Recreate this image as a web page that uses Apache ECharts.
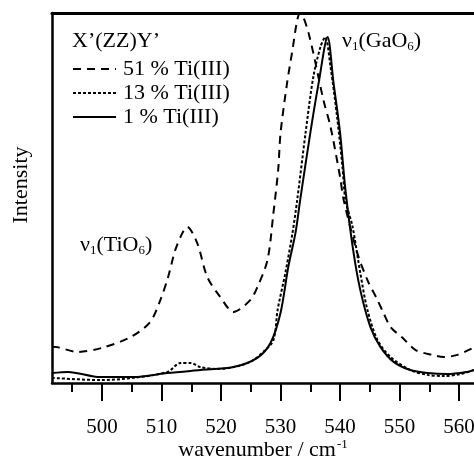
<!DOCTYPE html>
<html>
<head>
<meta charset="utf-8">
<script src="https://cdn.jsdelivr.net/npm/echarts@6/dist/echarts.min.js"></script>
<style>
  html, body { margin: 0; padding: 0; background: #fff; }
  #chart { width: 474px; height: 464px; }
</style>
</head>
<body>
<div id="chart"></div>
<script>
// wavenumber (cm-1) / intensity pairs
const wn51 = [491.6, 492.5, 495.9, 500.0, 504.8, 508.1, 509.8, 511.1, 512.3, 513.5, 514.3, 516.0, 517.7, 519.9, 522.1, 524.9, 526.1, 527.8, 528.8, 529.6, 530.0, 531.1, 532.0, 532.8, 533.3, 534.7, 537.2, 538.4, 540.0, 540.6, 542.9, 544.6, 546.3, 547.3, 548.5, 550.5, 552.7, 555.5, 557.4, 559.7, 562.5]
const int51 = [0.098, 0.097, 0.084, 0.095, 0.124, 0.165, 0.224, 0.286, 0.359, 0.405, 0.422, 0.378, 0.286, 0.232, 0.192, 0.224, 0.259, 0.332, 0.459, 0.576, 0.676, 0.811, 0.9, 0.981, 1.0, 0.946, 0.765, 0.692, 0.557, 0.495, 0.351, 0.278, 0.224, 0.189, 0.151, 0.122, 0.089, 0.076, 0.07, 0.076, 0.096]

const wn13 = [491.6, 499.7, 505.3, 511.0, 513.2, 514.9, 516.5, 519.4, 522.1, 524.9, 527.1, 528.8, 529.5, 530.8, 532.0, 532.8, 534.2, 535.5, 536.7, 537.5, 538.4, 539.5, 540.4, 540.9, 542.1, 543.4, 544.6, 546.3, 548.5, 551.8, 554.7, 557.4, 560.2, 562.5]
const int13 = [0.014, 0.008, 0.014, 0.03, 0.054, 0.054, 0.043, 0.038, 0.043, 0.057, 0.084, 0.116, 0.197, 0.297, 0.405, 0.495, 0.676, 0.827, 0.908, 0.935, 0.854, 0.719, 0.584, 0.495, 0.422, 0.297, 0.197, 0.116, 0.07, 0.035, 0.022, 0.019, 0.024, 0.035]

const wn1 = [491.6, 494.3, 499.7, 505.3, 511.0, 516.5, 522.1, 526.1, 528.3, 530.0, 531.3, 532.5, 533.3, 535.0, 536.4, 537.9, 538.9, 540.0, 540.9, 542.2, 543.4, 545.1, 546.8, 549.0, 551.8, 554.7, 558.0, 561.4, 562.5]
const int1 = [0.027, 0.03, 0.016, 0.016, 0.027, 0.035, 0.043, 0.068, 0.108, 0.19, 0.314, 0.405, 0.495, 0.676, 0.811, 0.935, 0.811, 0.676, 0.522, 0.359, 0.251, 0.151, 0.097, 0.057, 0.035, 0.027, 0.024, 0.03, 0.035]

const majorTicks = [500, 510, 520, 530, 540, 550, 560]
const minorTicks = [495, 505, 515, 525, 535, 545, 555]

const seriesNames = ['51 % Ti(III)', '13 % Ti(III)', '1 % Ti(III)']

const serif = "'Liberation Serif', 'DejaVu Serif', serif"
const xMin = 491.6
const xMax = 562.5

function zip (xs, ys) {
  return xs.map((x, i) => [x, ys[i]])
}

const chart = echarts.init(document.getElementById('chart'))
chart.setOption({
  animation: false,
  grid: {
    left: 52,
    top: 13,
    right: 0,
    bottom: 81,
    containLabel: false,
    outerBoundsMode: 'none'
  },
  legend: {
    orient: 'vertical',
    left: 72,
    top: 58,
    padding: 0,
    itemWidth: 43,
    itemHeight: 14,
    itemGap: 2,
    data: seriesNames,
    itemStyle: { opacity: 0 },
    textStyle: { fontFamily: serif, fontSize: 22, lineHeight: 22, color: '#000', padding: [0, 0, 0, 2] }
  },
  xAxis: [
    {
      // major ticks and labels
      type: 'value',
      min: xMin,
      max: xMax,
      position: 'bottom',
      splitLine: { show: false },
      axisLine: { show: true, lineStyle: { color: '#000', width: 2.5 } },
      axisTick: { show: true, customValues: majorTicks, length: 18, lineStyle: { color: '#000', width: 2 } },
      axisLabel: { customValues: majorTicks, margin: 34, fontFamily: serif, fontSize: 21, color: '#000' }
    },
    {
      // minor ticks
      type: 'value',
      min: xMin,
      max: xMax,
      position: 'bottom',
      splitLine: { show: false },
      axisLine: { show: false },
      axisTick: { show: true, customValues: minorTicks, length: 9, lineStyle: { color: '#000', width: 2 } },
      axisLabel: { show: false }
    },
    {
      // top frame line
      type: 'value',
      min: xMin,
      max: xMax,
      position: 'top',
      splitLine: { show: false },
      axisLine: { show: true, lineStyle: { color: '#000', width: 3 } },
      axisTick: { show: false },
      axisLabel: { show: false }
    },
    {
      // axis title only
      type: 'value',
      min: xMin,
      max: xMax,
      position: 'bottom',
      splitLine: { show: false },
      axisLine: { show: false },
      axisTick: { show: false },
      axisLabel: { show: false },
      name: 'wavenumber / cm{sup|-1}',
      nameLocation: 'middle',
      nameGap: 55,
      nameTextStyle: {
        fontFamily: serif,
        fontSize: 22,
        color: '#000',
        rich: { sup: { fontFamily: serif, fontSize: 13, verticalAlign: 'top', padding: [0, 0, 12, 1], color: '#000' } }
      }
    }
  ],
  yAxis: {
    type: 'value',
    min: 0,
    max: 1,
    splitLine: { show: false },
    axisTick: { show: false },
    axisLabel: { show: false },
    axisLine: { show: true, lineStyle: { color: '#000', width: 2.5 } },
    name: 'Intensity',
    nameLocation: 'middle',
    nameGap: 20,
    nameTextStyle: { fontFamily: serif, fontSize: 22, color: '#000', padding: [0, 0, 0, 26] }
  },
  series: [
    {
      name: seriesNames[0],
      type: 'line',
      data: zip(wn51, int51),
      symbol: 'none',
      smooth: 0.3,
      clip: true,
      itemStyle: { color: '#000' },
      lineStyle: { color: '#000', width: 2, type: [8, 6] }
    },
    {
      name: seriesNames[1],
      type: 'line',
      data: zip(wn13, int13),
      symbol: 'none',
      smooth: 0.3,
      clip: true,
      itemStyle: { color: '#000' },
      lineStyle: { color: '#000', width: 2, type: [3, 2] }
    },
    {
      name: seriesNames[2],
      type: 'line',
      data: zip(wn1, int1),
      symbol: 'none',
      smooth: 0.3,
      clip: true,
      itemStyle: { color: '#000' },
      lineStyle: { color: '#000', width: 2, type: 'solid' }
    }
  ],
  graphic: [
    {
      type: 'text',
      left: 72,
      top: 30,
      style: { text: 'X’(ZZ)Y’', fontFamily: serif, fontSize: 22, fill: '#000' }
    },
    {
      type: 'text',
      left: 80,
      top: 234,
      style: {
        text: 'ν{sub|1}(TiO{sub|6})',
        fontFamily: serif,
        fontSize: 22,
        fill: '#000',
        rich: { sub: { fontFamily: serif, fontSize: 13, verticalAlign: 'bottom', padding: [12, 0, 0, 0], fill: '#000' } }
      }
    },
    {
      type: 'text',
      left: 342,
      top: 30,
      style: {
        text: 'ν{sub|1}(GaO{sub|6})',
        fontFamily: serif,
        fontSize: 22,
        fill: '#000',
        rich: { sub: { fontFamily: serif, fontSize: 13, verticalAlign: 'bottom', padding: [12, 0, 0, 0], fill: '#000' } }
      }
    }
  ]
})
</script>
</body>
</html>
